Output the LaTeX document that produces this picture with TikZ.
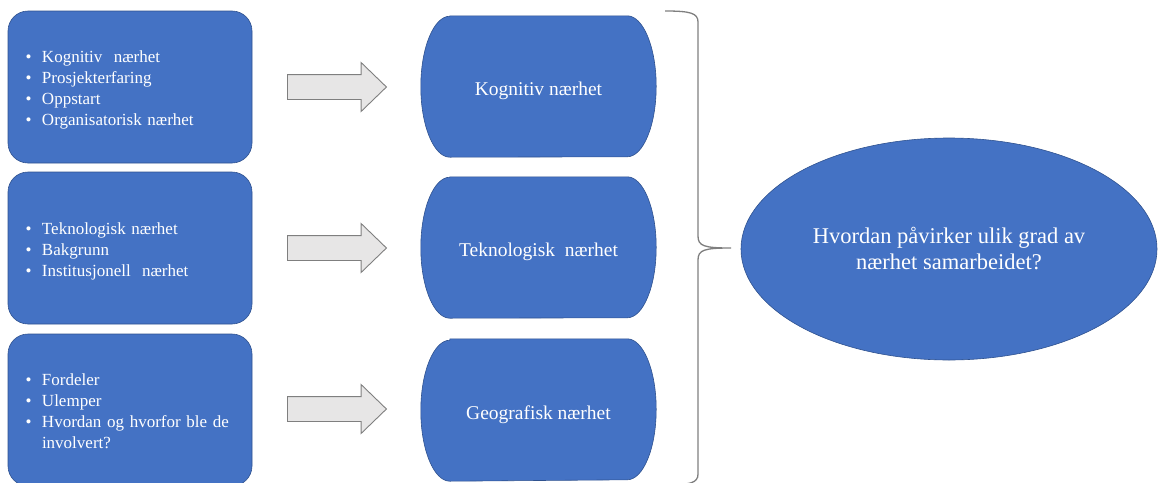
\documentclass[tikz,border=0pt]{standalone}
\usepackage{fontspec}
\setmainfont{Liberation Serif}
\usepackage{tikz}
\usetikzlibrary{shapes.geometric,shapes.arrows,positioning,backgrounds}
\usepackage{xcolor}
\definecolor{ppblue}{RGB}{68,114,196}
\definecolor{ppedge}{RGB}{47,82,143}
\definecolor{ppgrey}{RGB}{231,230,230}
\definecolor{ppline}{RGB}{127,127,127}
\newcommand{\bul}[1]{\makebox[16.5pt][l]{\textbullet}#1}
\newcommand{\bulcont}[1]{\hspace*{16.5pt}#1}
\newcommand{\listitems}[1]{\raisebox{-3pt}[\height][\depth]{\begin{tabular}{@{}l@{}}#1\end{tabular}}}
\tikzstyle{listbox} = [rectangle, rounded corners=20pt, minimum width=244pt, minimum height=152pt, text width=209pt, inner xsep=17.5pt, align=left, draw=ppedge, line width=0.6pt, fill=ppblue, text=white, font=\fontsize{17pt}{21pt}\selectfont]
\tikzstyle{flatpart} = [rectangle, minimum width=177pt, minimum height=141pt, inner sep=0pt, text height=18pt, text depth=0pt, text=white, font=\fontsize{19.5pt}{23pt}\selectfont]
\tikzstyle{endshape} = [draw=ppedge, line width=0.6pt, fill=ppblue]
\tikzstyle{blockarrow} = [single arrow, draw=ppline, line width=0.9pt, fill=ppgrey, minimum height=99pt, single arrow head extend=12pt, single arrow tip angle=88, inner xsep=0pt, inner ysep=12pt]
\tikzstyle{question} = [ellipse, minimum width=416pt, minimum height=222pt, draw=ppedge, line width=0.6pt, fill=ppblue, text=white, align=center, font=\fontsize{22.5pt}{26pt}\selectfont]
\tikzstyle{bracket} = [draw=ppline, line width=1.3pt]

\begin{document}
\begin{tikzpicture}[x=1pt, y=-1pt]
\useasboundingbox (0,0) rectangle (1158,482);
\clip (0,0) rectangle (1158,482);
% left lists
\node[listbox] (l1) at (130,87) {\listitems{\bul{Kognitiv\ \ nærhet}\\\bul{Prosjekterfaring}\\\bul{Oppstart}\\\bul{Organisatorisk nærhet}}};
\node[listbox] (l2) at (130,248) {\listitems{\bul{Teknologisk nærhet}\\\bul{Bakgrunn}\\\bul{Institusjonell\ \ nærhet}}};
\node[listbox] (l3) at (130,410) {\listitems{\bul{Fordeler}\\\bul{Ulemper}\\\bul{Hvordan og hvorfor ble de}\\\bulcont{involvert?}}};
% block arrows
\node[blockarrow, anchor=tail] (a1) at (287,87) {};
\node[blockarrow, anchor=tail] (a2) at (287,248) {};
\node[blockarrow, anchor=tail] (a3) at (287,409) {};
% middle shapes
\node[flatpart] (m1) at (538.5,86.5) {Kognitiv nærhet};
\node[flatpart] (m2) at (538.5,247.5) {Teknologisk\ \ nærhet};
\node[flatpart, minimum height=142pt] (m3) at (538.5,410) {Geografisk nærhet};
\begin{pgfonlayer}{background}
\foreach \m in {m1,m2,m3} {
  \path[endshape] (\m.north west) -- (\m.north east)
    arc[start angle=90, end angle=-90, x radius=29pt, y radius=70.5pt]
    -- (\m.south west)
    arc[start angle=-90, end angle=-270, x radius=29pt, y radius=70.5pt] -- cycle;
}
\end{pgfonlayer}
% brace
\coordinate (btip) at (731,248);
\draw[bracket] (665,11) .. controls (690,11) and (698,13) .. (698,22) -- (698,236)
  .. controls (698,246) and (704,248) .. (btip)
  .. controls (704,248) and (698,250) .. (698,260) -- (698,474)
  .. controls (698,483) and (690,485) .. (665,485);
% question
\node[question] (q) at (949,249) {Hvordan påvirker ulik grad av\\nærhet samarbeidet?};
\end{tikzpicture}
\end{document}
